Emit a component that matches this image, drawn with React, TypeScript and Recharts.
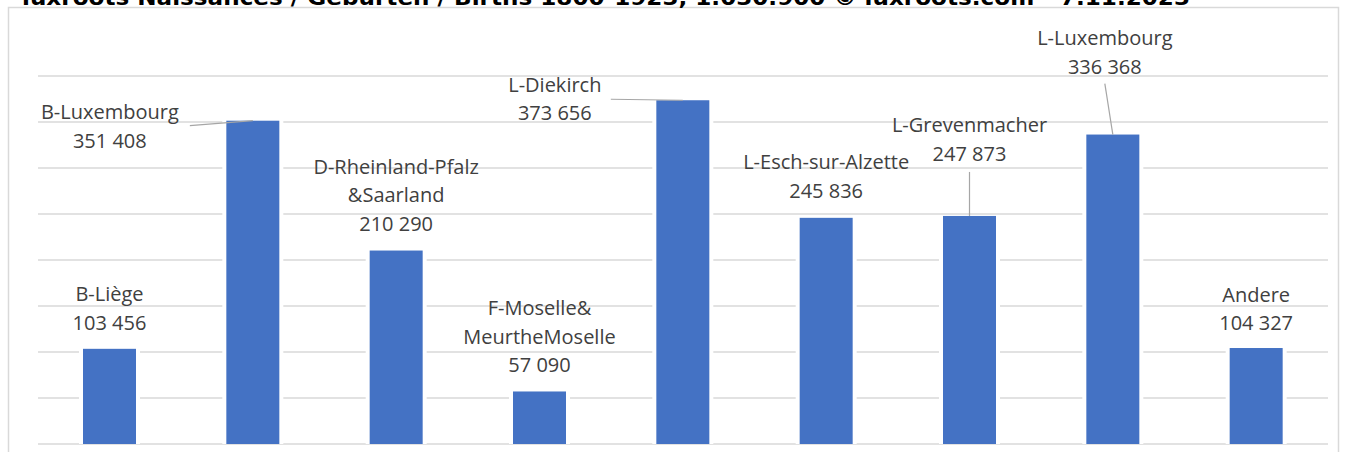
import { Bar, BarChart, CartesianGrid, LabelList, XAxis, YAxis } from "recharts"

const regions = [
  "B-Liège",
  "B-Luxembourg",
  "D-Rheinland-Pfalz &Saarland",
  "F-Moselle& MeurtheMoselle",
  "L-Diekirch",
  "L-Esch-sur-Alzette",
  "L-Grevenmacher",
  "L-Luxembourg",
  "Andere",
]
const births = [103456, 351408, 210290, 57090, 373656, 245836, 247873, 336368, 104327]
const yTicks = [0, 50000, 100000, 150000, 200000, 250000, 300000, 350000, 400000]
const title = "luxroots Naissances / Geburten / Births  1800-1923, 1.030.900 © luxroots.com - 7.11.2023"

const data = regions.map((name, i) => ({ name, births: births[i] }))

// where each data label sits: value-line centre relative to the bar's top centre,
// leader = start of the leader line relative to that same point
const labelLayout: { dx: number; dy: number; leader?: [number, number] }[] = [
  { dx: 0, dy: -26 },
  { dx: -143, dy: 20, leader: [80, -15] },
  { dx: 0, dy: -27 },
  { dx: 0, dy: -26 },
  { dx: -128, dy: 13, leader: [56, -14] },
  { dx: 0, dy: -27 },
  { dx: 0, dy: -62, leader: [0, 18] },
  { dx: -8, dy: -68, leader: [0, 17] },
  { dx: 0, dy: -25 },
]

const fmt = (v: number) => String(v).replace(/\B(?=(\d{3})+(?!\d))/g, " ")

function BarWithGap(props: any) {
  const { x, y, width, height } = props
  return (
    <g>
      <rect x={x - 4} y={y} width={width + 8} height={height} fill="#fff" />
      <rect x={x} y={y} width={width} height={height} fill="#4472c4" />
    </g>
  )
}

function DataLabel(props: any) {
  const { x, y, width, index } = props
  const i = typeof index === "number" ? index : 0
  const d = data[i]
  const lay = labelLayout[i]
  const topX = Number(x) + Number(width) / 2
  const topY = Number(y)
  const cx = topX + lay.dx
  const cy = topY + lay.dy
  const lines = [...d.name.split(" "), fmt(d.births)]
  const lh = 28.5
  return (
    <g>
      {lay.leader && (
        <line
          x1={cx + lay.leader[0]}
          y1={cy + lay.leader[1]}
          x2={topX}
          y2={topY}
          stroke="#a6a6a6"
          strokeWidth={1.2}
        />
      )}
      {lines.map((t, k) => (
        <text
          key={k}
          x={cx}
          y={cy - (lines.length - 1 - k) * lh + 7}
          textAnchor="middle"
          fontFamily="Open Sans"
          fontSize={20}
          fill="#404040"
        >
          {t}
        </text>
      ))}
    </g>
  )
}

export default function App() {
  return (
    <div style={{ position: "absolute", left: 0, top: 0, width: 1346, height: 452, background: "#fff", overflow: "hidden" }}>
      <svg width={1346} height={452} style={{ position: "absolute", left: 0, top: 0 }}>
        <rect x={8.5} y={7.5} width={1330} height={500} fill="none" stroke="#d9d9d9" strokeWidth={1.5} />
        <text
          x={22}
          y={5}
          fontFamily="DejaVu Sans"
          fontWeight="bold"
          fontSize={22}
          fill="#000"
          textLength={1168}
          lengthAdjust="spacingAndGlyphs"
        >
          {title}
        </text>
      </svg>
      <div style={{ position: "absolute", left: 0, top: 0 }}>
        <BarChart width={1346} height={452} data={data} margin={{ top: 76, right: 18, bottom: 8, left: 38 }} barSize={53}>
          <CartesianGrid vertical={false} stroke="#d9d9d9" strokeWidth={1.5} />
          <XAxis dataKey="name" hide />
          <YAxis hide domain={[0, 400000]} ticks={yTicks} />
          <Bar dataKey="births" shape={<BarWithGap />} isAnimationActive={false}>
            <LabelList dataKey="births" content={<DataLabel />} />
          </Bar>
        </BarChart>
      </div>
    </div>
  )
}
